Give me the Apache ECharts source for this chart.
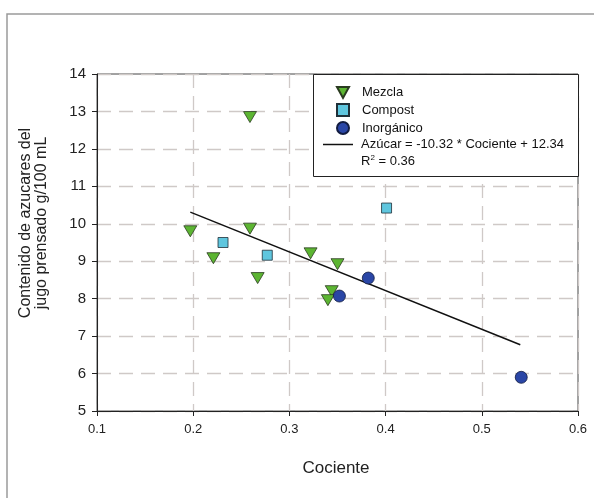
<!DOCTYPE html>
<html>
<head>
<meta charset="utf-8">
<script src="https://cdn.jsdelivr.net/npm/echarts@6/dist/echarts.min.js"></script>
<style>
  html, body { margin: 0; padding: 0; background: #fff; }
  #chart { width: 594px; height: 498px; }
</style>
</head>
<body>
<div id="chart"></div>
<script>
// valores
const mezcla = [
  [0.197, 9.80], [0.259, 12.85], [0.259, 9.87], [0.221, 9.08], [0.267, 8.55],
  [0.322, 9.21], [0.350, 8.92], [0.344, 8.20], [0.340, 7.96]
];
const compost = [[0.231, 9.50], [0.277, 9.16], [0.401, 10.42]];
const inorganico = [[0.352, 8.07], [0.382, 8.55], [0.541, 5.90]];
const ajuste = [[0.197, 10.31], [0.540, 6.77]];
const nombreAjuste = 'Azúcar = -10.32 * Cociente + 12.34';
const r2Texto = '0.36';

const font = 'Arial, "Liberation Sans", sans-serif';
const trianguloAbajo = 'path://M0,0 L10,0 L5,9 Z';

const myChart = echarts.init(document.getElementById('chart'));
myChart.setOption({
  backgroundColor: '#fff',
  animation: false,
  grid: {
    left: 97, right: 16, top: 74, bottom: 87,
    show: true, borderColor: '#444', borderWidth: 1
  },
  xAxis: {
    type: 'value', min: 0.1, max: 0.6, interval: 0.1,
    axisLine: { lineStyle: { color: '#222', width: 1 } },
    axisTick: { show: true, length: 5, lineStyle: { color: '#222' } },
    axisLabel: { color: '#222', fontSize: 13, fontFamily: font, margin: 12 },
    splitLine: { show: true, lineStyle: { color: '#cfc9c7', type: [14, 8], width: 1.3 } }
  },
  yAxis: {
    type: 'value', min: 5, max: 14, interval: 1,
    axisLine: { show: true, lineStyle: { color: '#222', width: 1 } },
    axisTick: { show: true, length: 5, lineStyle: { color: '#222' } },
    axisLabel: { color: '#222', fontSize: 15, fontFamily: font, margin: 11 },
    splitLine: { show: true, lineStyle: { color: '#cfc9c7', type: [14, 8], width: 1.3 } }
  },
  legend: [
    {
      data: [
        { name: 'Mezcla', icon: trianguloAbajo },
        { name: 'Compost', icon: 'rect' },
        { name: 'Inorgánico', icon: 'circle' }
      ],
      orient: 'vertical', left: 336, top: 86, z: 20,
      itemWidth: 12, itemHeight: 12, itemGap: 4, padding: 0,
      textStyle: { fontSize: 13, fontFamily: font, color: '#111', padding: [0, 0, 0, 8] }
    },
    {
      data: [{ name: nombreAjuste, icon: 'rect', itemStyle: { color: '#111' } }],
      orient: 'vertical', left: 323, top: 138, z: 20,
      itemWidth: 30, itemHeight: 1.5, padding: 0,
      textStyle: { fontSize: 13, fontFamily: font, color: '#111', padding: [0, 0, 0, 3] }
    }
  ],
  graphic: [
    {
      type: 'rect', z: 1, silent: true,
      shape: { x: 7, y: 14, width: 620, height: 520 },
      style: { fill: 'none', stroke: '#9a9a9a', lineWidth: 1.5 }
    },
    {
      type: 'rect', z: 10,
      shape: { x: 313.5, y: 74.5, width: 265, height: 102 },
      style: { fill: '#fff', stroke: '#222', lineWidth: 1 }
    },
    {
      type: 'text', z: 20, left: 361, top: 154,
      style: {
        text: 'R{s|2} = ' + r2Texto,
        font: '13px ' + font, fill: '#111',
        rich: { s: { fontSize: 8, verticalAlign: 'top', padding: [0, 0, 6, 0] } }
      }
    },
    {
      type: 'text', z: 20, x: 34, y: 223, rotation: Math.PI / 2,
      style: {
        text: 'Contenido de azucares del\njugo prensado g/100 mL',
        font: '16px ' + font, fill: '#222', lineHeight: 16,
        align: 'center', verticalAlign: 'middle'
      }
    },
    {
      type: 'text', z: 20, x: 336, y: 468,
      style: {
        text: 'Cociente', font: '17px ' + font, fill: '#222',
        align: 'center', verticalAlign: 'middle'
      }
    }
  ],
  series: [
    {
      name: nombreAjuste, type: 'line', data: ajuste,
      symbol: 'none', itemStyle: { color: '#111' },
      lineStyle: { color: '#111', width: 1.5 }, z: 3
    },
    {
      name: 'Mezcla', type: 'scatter', data: mezcla,
      symbol: trianguloAbajo, symbolSize: [13, 11], z: 4,
      itemStyle: { color: '#5cb532', borderColor: '#2a3a20', borderWidth: 0.8, opacity: 1 }
    },
    {
      name: 'Compost', type: 'scatter', data: compost,
      symbol: 'rect', symbolSize: 10, z: 4,
      itemStyle: { color: '#5fc6de', borderColor: '#1f3038', borderWidth: 0.8, opacity: 1 }
    },
    {
      name: 'Inorgánico', type: 'scatter', data: inorganico,
      symbol: 'circle', symbolSize: 12, z: 4,
      itemStyle: { color: '#2a46a6', borderColor: '#121c40', borderWidth: 0.8, opacity: 1 }
    }
  ]
});
</script>
</body>
</html>
